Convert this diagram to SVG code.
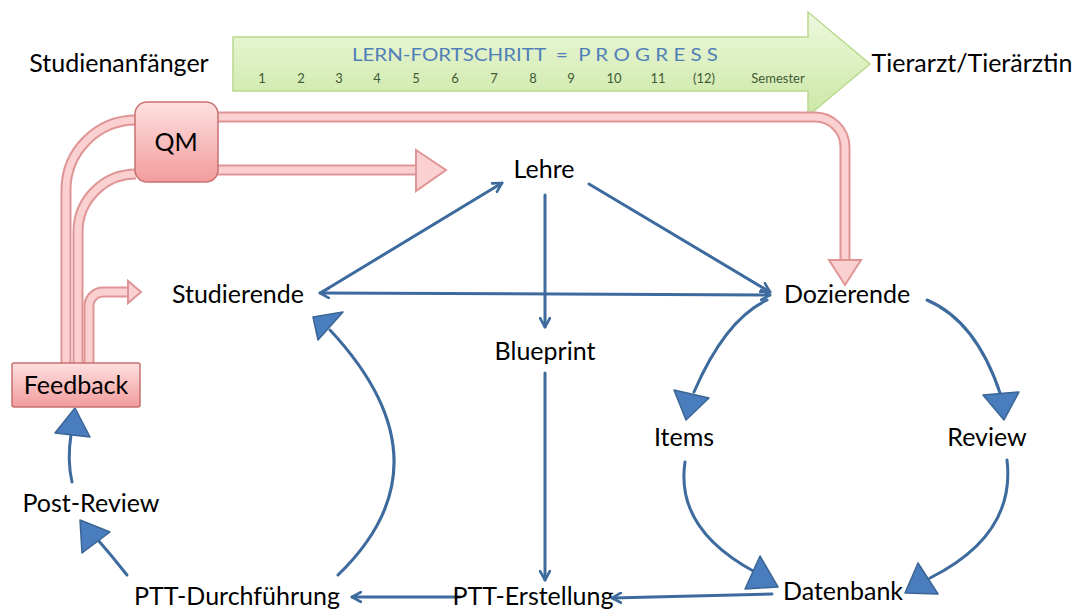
<svg xmlns="http://www.w3.org/2000/svg" width="1075" height="610" viewBox="0 0 1075 610">
<style>
.lbl{font-family:Lato,"Liberation Sans",sans-serif;font-size:25px;fill:#000;text-anchor:middle}
.num{font-family:Lato,"Liberation Sans",sans-serif;font-size:13px;fill:#3f5a35;text-anchor:middle}
.blu{fill:none;stroke:#3e6b9e;stroke-width:3;stroke-linecap:round}
.tri{fill:#4a7dbd;stroke:#3a6594;stroke-width:1.5;stroke-linejoin:round}
.pko{fill:none;stroke:#df9595;stroke-width:11}
.pki{fill:none;stroke:#fbd0d0;stroke-width:7}
.pkh{fill:#fbd0d0;stroke:#df9595;stroke-width:2;stroke-linejoin:miter}
</style>
<defs>
<linearGradient id="gGreen" x1="0" y1="0" x2="0" y2="1">
<stop offset="0" stop-color="#eef8de"/><stop offset="1" stop-color="#cbe8a4"/>
</linearGradient>
<linearGradient id="gPink" x1="0" y1="0" x2="0" y2="1">
<stop offset="0" stop-color="#fde0e0"/><stop offset="1" stop-color="#f39c9c"/>
</linearGradient>
<marker id="vh" viewBox="0 0 12 12" refX="10" refY="6" markerWidth="12" markerHeight="12" markerUnits="userSpaceOnUse" orient="auto-start-reverse">
<path d="M1,1 L10,6 L1,11" fill="none" stroke="#3e6b9e" stroke-width="2.6" stroke-linecap="round" stroke-linejoin="round"/>
</marker>
</defs>

<g id="progress">
<polygon points="233,37 808,37 808,12 870,64 808,116 808,91 233,91" fill="url(#gGreen)" stroke="#b9d98f" stroke-width="1.5"/>
<text x="352" y="61" textLength="366" lengthAdjust="spacingAndGlyphs" style="font-family:Lato,'Liberation Sans',sans-serif;font-size:18px;fill:#4f7fb8" xml:space="preserve">LERN-FORTSCHRITT  =  P R O G R E S S</text>
<text class="num" x="262" y="83">1</text>
<text class="num" x="301" y="83">2</text>
<text class="num" x="339" y="83">3</text>
<text class="num" x="377" y="83">4</text>
<text class="num" x="416" y="83">5</text>
<text class="num" x="455" y="83">6</text>
<text class="num" x="494" y="83">7</text>
<text class="num" x="533" y="83">8</text>
<text class="num" x="571" y="83">9</text>
<text class="num" x="614" y="83">10</text>
<text class="num" x="658" y="83">11</text>
<text class="num" x="704" y="83">(12)</text>
<text class="num" x="778" y="83">Semester</text>
</g>

<g id="start"><text class="lbl" x="119" y="72">Studienanfänger</text></g>
<g id="end"><text class="lbl" x="972" y="72">Tierarzt/Tierärztin</text></g>

<g id="connectors">
<path class="pko" d="M66,363 V190 A70,70 0 0 1 136,120"/>
<path class="pki" d="M66,363 V190 A70,70 0 0 1 136,120"/>
<path class="pko" d="M78,363 V232 A58,58 0 0 1 136,174"/>
<path class="pki" d="M78,363 V232 A58,58 0 0 1 136,174"/>
<path class="pko" d="M89,363 V306 A14,14 0 0 1 103,292 H128"/>
<path class="pki" d="M89,363 V306 A14,14 0 0 1 103,292 H129"/>
<polygon class="pkh" points="128,281 128,303 141,292"/>
<path class="pko" d="M216,117 H815 A30,30 0 0 1 845,147 V260" stroke="#d98080" stroke-width="12"/>
<path class="pki" d="M216,117 H815 A30,30 0 0 1 845,147 V261" stroke="#f4aaaa" stroke-width="8"/>
<polygon class="pkh" points="829,260 861,260 845,285"/>
<path class="pko" d="M216,170 H416"/>
<path class="pki" d="M216,170 H417"/>
<polygon class="pkh" points="416,150 416,191 446,170"/>

<line class="blu" x1="589" y1="184" x2="770" y2="292" marker-end="url(#vh)"/>
<line class="blu" x1="322" y1="292" x2="502" y2="183" marker-end="url(#vh)"/>
<line class="blu" x1="320" y1="293" x2="770" y2="295" marker-start="url(#vh)" marker-end="url(#vh)"/>
<line class="blu" x1="545" y1="195" x2="545" y2="327" marker-end="url(#vh)"/>
<line class="blu" x1="545" y1="373" x2="545" y2="580" marker-end="url(#vh)"/>
<line class="blu" x1="772" y1="594" x2="612" y2="598" marker-end="url(#vh)"/>
<line class="blu" x1="460" y1="597" x2="352" y2="597" marker-end="url(#vh)"/>

<path class="blu" d="M767,300 Q725,320 694,392"/>
<polygon class="tri" points="674,390 709,398 686,420"/>
<path class="blu" d="M927,300 Q976,321 1000,393"/>
<polygon class="tri" points="983,395 1019,392 1004,420"/>
<path class="blu" d="M685,462 Q675,529 755,572"/>
<polygon class="tri" points="760,556 778,587 745,589"/>
<path class="blu" d="M1007,460 Q1016,535 930,578"/>
<polygon class="tri" points="918,563 938,594 905,593"/>
<path class="blu" d="M338,575 Q454,463 330,330"/>
<polygon class="tri" points="313,317 343,312 318,340"/>
<path class="blu" d="M127,575 Q112,556 98,540"/>
<polygon class="tri" points="80,520 110,532 82,553"/>
<path class="blu" d="M72,482 Q67,460 71,435"/>
<polygon class="tri" points="55,433 90,437 75,408"/>
</g>

<g id="qm">
<rect x="135" y="102" width="83" height="80" rx="12" fill="url(#gPink)" stroke="#c97070" stroke-width="1.5"/>
<text class="lbl" x="176" y="151">QM</text>
</g>
<g id="feedback">
<rect x="12" y="363" width="128" height="44" rx="2" fill="url(#gPink)" stroke="#c97070" stroke-width="1.5"/>
<text class="lbl" x="76" y="394">Feedback</text>
</g>
<g id="lehre"><text class="lbl" x="544" y="178">Lehre</text></g>
<g id="studierende"><text class="lbl" x="238" y="303">Studierende</text></g>
<g id="dozierende"><text class="lbl" x="847" y="303">Dozierende</text></g>
<g id="blueprint"><text class="lbl" x="545" y="360">Blueprint</text></g>
<g id="items"><text class="lbl" x="684" y="446">Items</text></g>
<g id="review"><text class="lbl" x="987" y="446">Review</text></g>
<g id="postreview"><text class="lbl" x="91" y="512">Post-Review</text></g>
<g id="pttd"><text class="lbl" x="237" y="605">PTT-Durchführung</text></g>
<g id="ptte"><text class="lbl" x="533" y="605">PTT-Erstellung</text></g>
<g id="datenbank"><text class="lbl" x="843" y="600">Datenbank</text></g>
</svg>
